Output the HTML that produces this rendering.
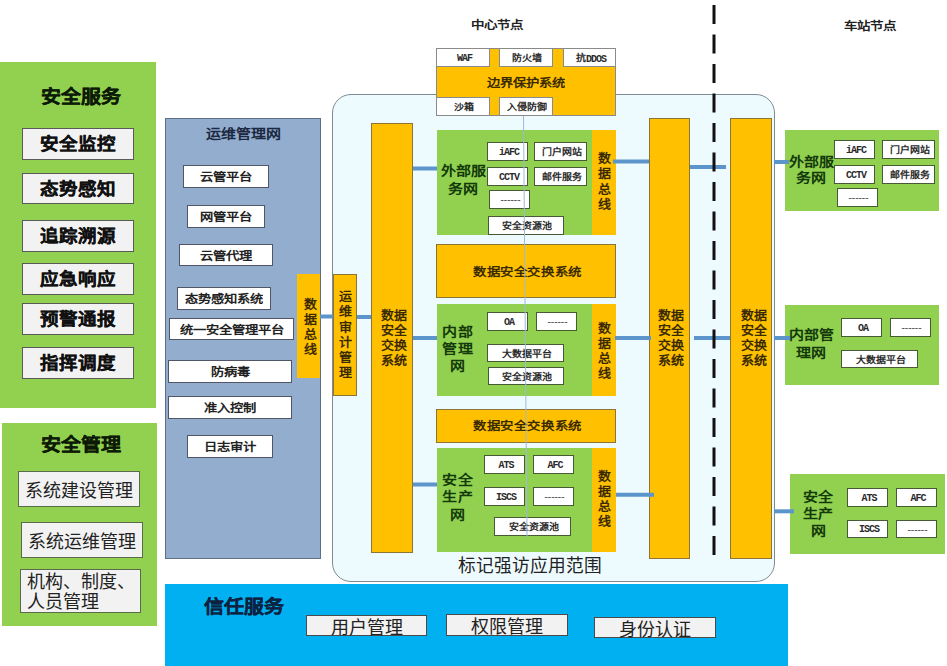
<!DOCTYPE html>
<html lang="zh-CN">
<head>
<meta charset="utf-8">
<style>
html,body{margin:0;padding:0;}
body{width:947px;height:666px;overflow:hidden;background:#ffffff;position:relative;font-family:"Liberation Serif",serif;}
.a{position:absolute;box-sizing:border-box;}
.c{display:flex;align-items:center;justify-content:center;white-space:nowrap;}
.g{background:#92D050;}
.y{background:#FFC000;}
.s{font-family:"Liberation Sans",sans-serif;}
.gb{background:#F2F2F2;border:1px solid #5a5a5a;font-family:"Liberation Sans",sans-serif;font-weight:bold;font-size:18.5px;color:#111;-webkit-text-stroke:0.3px #111;}
.gm{background:#F2F2F2;border:1px solid #5a6a4a;font-family:"Liberation Sans",sans-serif;font-size:18px;color:#222;}
.wb{background:#fff;border:1px solid #505666;font-weight:bold;font-size:13.3px;color:#222;}
.sb{background:#fff;border:1px solid #465a36;font-weight:bold;font-size:10px;color:#2a2a2a;padding-left:2px;}
.gb span{display:inline-block;transform:scaleY(.9);position:relative;top:-1px;}
.sq{display:inline-block;transform:scaleY(.9);}
.wb span{display:inline-block;transform:scaleY(.88);position:relative;top:0px;}
.m{font-family:"Liberation Mono",monospace;letter-spacing:-1px;margin-right:-1px;position:relative;top:0px;display:inline-block;transform:scaleY(1.15);}
.sb .t{display:inline-block;transform:scaleY(.87);}
.gt .l{display:inline-block;transform:scaleY(.87);}
.vt .l{display:inline-block;transform:scaleY(.92);}
.q{display:inline-block;transform:scaleY(.87);}
.vt{text-align:center;font-weight:bold;color:#3a2a00;}
.gt{font-weight:bold;color:#123a0a;text-align:center;}
.ln{position:absolute;background:#5B9BD5;height:4px;}
</style>
</head>
<body>

<!-- 安全服务 panel -->
<div class="a g" style="left:0;top:62px;width:156px;height:346px;"></div>
<div class="a c s" style="left:0;top:83px;width:162px;height:24px;font-size:20px;font-weight:bold;color:#0c1a06;-webkit-text-stroke:0.3px #0c1a06;"><span class="sq">安全服务</span></div>
<div class="a c gb" style="left:22px;top:128px;width:112px;height:32px;"><span>安全监控</span></div>
<div class="a c gb" style="left:22px;top:173px;width:112px;height:31px;"><span>态势感知</span></div>
<div class="a c gb" style="left:22px;top:220px;width:112px;height:32px;"><span>追踪溯源</span></div>
<div class="a c gb" style="left:22px;top:263px;width:112px;height:32px;"><span>应急响应</span></div>
<div class="a c gb" style="left:22px;top:303px;width:112px;height:32px;"><span>预警通报</span></div>
<div class="a c gb" style="left:22px;top:347px;width:112px;height:32px;"><span>指挥调度</span></div>

<!-- 安全管理 panel -->
<div class="a g" style="left:2px;top:423px;width:155px;height:203px;"></div>
<div class="a c s" style="left:2px;top:431px;width:158px;height:24px;font-size:20px;font-weight:bold;color:#0c1a06;-webkit-text-stroke:0.3px #0c1a06;"><span class="sq">安全管理</span></div>
<div class="a c gm" style="left:18px;top:471px;width:122px;height:36px;">系统建设管理</div>
<div class="a c gm" style="left:21px;top:522px;width:122px;height:36px;">系统运维管理</div>
<div class="a gm" style="left:20px;top:569px;width:121px;height:44px;line-height:20px;padding:2px 0 0 6px;white-space:nowrap;">机构、制度、<br>人员管理</div>

<!-- 运维管理网 panel -->
<div class="a" style="left:165px;top:118px;width:156px;height:441px;background:#93ADCF;border:1px solid #5f6f86;"></div>
<div class="a c" style="left:165px;top:122.5px;width:156px;height:20px;font-size:15px;font-weight:bold;color:#1c2840;"><span class="q">运维管理网</span></div>
<div class="a c wb" style="left:183px;top:165px;width:86px;height:23px;"><span>云管平台</span></div>
<div class="a c wb" style="left:187px;top:205px;width:78px;height:23px;"><span>网管平台</span></div>
<div class="a c wb" style="left:179px;top:244px;width:94px;height:22px;"><span>云管代理</span></div>
<div class="a c wb" style="left:177px;top:287px;width:94px;height:23px;"><span>态势感知系统</span></div>
<div class="a c wb" style="left:169px;top:318px;width:125px;height:22px;"><span>统一安全管理平台</span></div>
<div class="a c wb" style="left:168px;top:360px;width:124px;height:23px;"><span>防病毒</span></div>
<div class="a c wb" style="left:168px;top:396px;width:124px;height:23px;"><span>准入控制</span></div>
<div class="a c wb" style="left:187px;top:435px;width:86px;height:23px;"><span>日志审计</span></div>

<!-- left 数据总线 -->
<div class="a y vt" style="left:297px;top:274px;width:23px;height:104px;font-size:13px;line-height:15px;padding-top:22.5px;padding-left:3px;"><span class="l">数</span><br><span class="l">据</span><br><span class="l">总</span><br><span class="l">线</span></div>

<!-- rounded container -->
<div class="a" style="left:332px;top:94px;width:443px;height:488px;background:#EEFBFE;border:1.5px solid #7f8a93;border-radius:19px;"></div>

<!-- 中心节点 / 车站节点 -->
<div class="a c" style="left:455px;top:14.3px;width:83px;height:20px;font-size:13.5px;font-weight:bold;color:#222;"><span class="q">中心节点</span></div>
<div class="a c" style="left:828px;top:15.3px;width:83px;height:20px;font-size:13.5px;font-weight:bold;color:#222;"><span class="q">车站节点</span></div>

<!-- 运维审计管理 -->
<div class="a y vt" style="left:333px;top:274px;width:24px;height:122px;border:1px solid #8c7434;font-size:13px;line-height:15.3px;padding-top:14px;"><span class="l">运</span><br><span class="l">维</span><br><span class="l">审</span><br><span class="l">计</span><br><span class="l">管</span><br><span class="l">理</span></div>

<!-- Big yellow bar 1 -->
<div class="a y vt" style="left:371px;top:123px;width:42px;height:430px;border:1px solid #8c7434;font-size:13px;line-height:15.3px;padding-top:183.5px;padding-left:3px;"><span class="l">数据</span><br><span class="l">安全</span><br><span class="l">交换</span><br><span class="l">系统</span></div>

<!-- bars 2 & 3 -->
<div class="a y vt" style="left:649px;top:118px;width:41px;height:441px;border:1px solid #8c7434;font-size:13px;line-height:15.3px;padding-top:188.5px;padding-left:2px;"><span class="l">数据</span><br><span class="l">安全</span><br><span class="l">交换</span><br><span class="l">系统</span></div>
<div class="a y vt" style="left:730px;top:118px;width:42px;height:441px;border:1px solid #8c7434;font-size:13px;line-height:15.3px;padding-top:188.5px;padding-left:5px;"><span class="l">数据</span><br><span class="l">安全</span><br><span class="l">交换</span><br><span class="l">系统</span></div>

<!-- 边界保护系统 -->
<div class="a y" style="left:436px;top:48px;width:180px;height:68px;border:1px solid #8a8a8a;"></div>
<div class="a c" style="left:436px;top:72px;width:180px;height:20px;font-size:13.3px;font-weight:bold;color:#3a2a00;"><span class="q">边界保护系统</span></div>
<div class="a c sb" style="left:436px;top:48px;width:54px;height:19px;border-color:#8a8a8a;"><span class="t"><span class="m">WAF</span></span></div>
<div class="a c sb" style="left:499px;top:48px;width:54px;height:19px;border-color:#8a8a8a;"><span class="t">防火墙</span></div>
<div class="a c sb" style="left:563px;top:48px;width:53px;height:19px;border-color:#8a8a8a;"><span class="t">抗<span class="m">DDOS</span></span></div>
<div class="a c sb" style="left:436px;top:97px;width:54px;height:19px;border-color:#8a8a8a;"><span class="t">沙箱</span></div>
<div class="a c sb" style="left:499px;top:97px;width:54px;height:19px;border-color:#8a8a8a;"><span class="t">入侵防御</span></div>

<!-- green 1 外部服务网 -->
<div class="a g" style="left:437px;top:130px;width:155px;height:105px;"></div>
<div class="a y vt" style="left:592px;top:130px;width:24px;height:105px;font-size:13px;line-height:15.5px;padding-top:20.5px;"><span class="l">数</span><br><span class="l">据</span><br><span class="l">总</span><br><span class="l">线</span></div>
<div class="a gt" style="left:437px;top:163.3px;width:52px;font-size:15px;line-height:17.4px;"><span class="l">外部服</span><br><span class="l">务网</span></div>
<div class="a c sb" style="left:487px;top:142px;width:41px;height:19px;"><span class="t"><span class="m">iAFC</span></span></div>
<div class="a c sb" style="left:534px;top:142px;width:53px;height:19px;"><span class="t">门户网站</span></div>
<div class="a c sb" style="left:487px;top:167px;width:41px;height:19px;"><span class="t"><span class="m">CCTV</span></span></div>
<div class="a c sb" style="left:534px;top:167px;width:53px;height:19px;"><span class="t">邮件服务</span></div>
<div class="a c sb" style="left:489px;top:190px;width:41px;height:19px;"><span class="t">------</span></div>
<div class="a c sb" style="left:488px;top:216px;width:76px;height:19px;"><span class="t">安全资源池</span></div>

<!-- yellow 数据安全交换系统 1 -->
<div class="a y c" style="left:436px;top:244px;width:180px;height:54px;border:1px solid #8c7434;font-size:13.4px;letter-spacing:0.6px;padding-left:3px;font-weight:bold;color:#3a2a00;"><span class="q">数据安全交换系统</span></div>

<!-- green 2 内部管理网 -->
<div class="a g" style="left:437px;top:304px;width:155px;height:92px;"></div>
<div class="a y vt" style="left:592px;top:304px;width:24px;height:92px;font-size:13px;line-height:15px;padding-top:17px;"><span class="l">数</span><br><span class="l">据</span><br><span class="l">总</span><br><span class="l">线</span></div>
<div class="a gt" style="left:440px;top:323.5px;width:36px;font-size:15px;line-height:17px;letter-spacing:1px;"><span class="l">内部</span><br><span class="l">管理</span><br><span class="l">网</span></div>
<div class="a c sb" style="left:487px;top:312px;width:41px;height:19px;"><span class="t"><span class="m">OA</span></span></div>
<div class="a c sb" style="left:536px;top:312px;width:41px;height:19px;"><span class="t">------</span></div>
<div class="a c sb" style="left:487px;top:344px;width:77px;height:18px;"><span class="t">大数据平台</span></div>
<div class="a c sb" style="left:488px;top:367px;width:76px;height:18px;"><span class="t">安全资源池</span></div>

<!-- yellow 数据安全交换系统 2 -->
<div class="a y c" style="left:436px;top:409px;width:180px;height:34px;border:1px solid #8c7434;font-size:13.4px;letter-spacing:0.6px;padding-left:3px;padding-bottom:2px;font-weight:bold;color:#3a2a00;"><span class="q">数据安全交换系统</span></div>

<!-- green 3 安全生产网 -->
<div class="a g" style="left:437px;top:448px;width:155px;height:104px;"></div>
<div class="a y vt" style="left:592px;top:448px;width:24px;height:104px;font-size:13px;line-height:15px;padding-top:21px;"><span class="l">数</span><br><span class="l">据</span><br><span class="l">总</span><br><span class="l">线</span></div>
<div class="a gt" style="left:440px;top:471.5px;width:36px;font-size:15px;line-height:17.5px;letter-spacing:1px;"><span class="l">安全</span><br><span class="l">生产</span><br><span class="l">网</span></div>
<div class="a c sb" style="left:484px;top:455px;width:41px;height:19px;"><span class="t"><span class="m">ATS</span></span></div>
<div class="a c sb" style="left:533px;top:455px;width:41px;height:19px;"><span class="t"><span class="m">AFC</span></span></div>
<div class="a c sb" style="left:484px;top:487px;width:41px;height:19px;"><span class="t"><span class="m">ISCS</span></span></div>
<div class="a c sb" style="left:533px;top:487px;width:41px;height:19px;"><span class="t">------</span></div>
<div class="a c sb" style="left:494px;top:517px;width:77px;height:19px;"><span class="t">安全资源池</span></div>

<!-- 标记强访应用范围 -->
<div class="a c s" style="left:440px;top:552px;width:180px;height:24px;font-size:17.7px;color:#222;">标记强访应用范围</div>

<!-- station green 1 -->
<div class="a g" style="left:785px;top:130px;width:154px;height:81px;"></div>
<div class="a gt" style="left:786px;top:153.5px;width:50px;font-size:15px;line-height:16.8px;"><span class="l">外部服</span><br><span class="l">务网</span></div>
<div class="a c sb" style="left:834px;top:140px;width:41px;height:19px;"><span class="t"><span class="m">iAFC</span></span></div>
<div class="a c sb" style="left:882px;top:140px;width:53px;height:19px;"><span class="t">门户网站</span></div>
<div class="a c sb" style="left:834px;top:165px;width:41px;height:19px;"><span class="t"><span class="m">CCTV</span></span></div>
<div class="a c sb" style="left:882px;top:165px;width:53px;height:19px;"><span class="t">邮件服务</span></div>
<div class="a c sb" style="left:837px;top:188px;width:41px;height:19px;"><span class="t">------</span></div>

<!-- station green 2 -->
<div class="a g" style="left:785px;top:305px;width:154px;height:80px;"></div>
<div class="a gt" style="left:786px;top:327px;width:50px;font-size:15px;line-height:17.9px;"><span class="l">内部管</span><br><span class="l">理网</span></div>
<div class="a c sb" style="left:841px;top:318px;width:41px;height:19px;"><span class="t"><span class="m">OA</span></span></div>
<div class="a c sb" style="left:890px;top:318px;width:41px;height:19px;"><span class="t">------</span></div>
<div class="a c sb" style="left:841px;top:350px;width:77px;height:18px;"><span class="t">大数据平台</span></div>

<!-- station green 3 -->
<div class="a g" style="left:790px;top:474px;width:155px;height:80px;"></div>
<div class="a gt" style="left:800px;top:488.5px;width:36px;font-size:15px;line-height:17px;letter-spacing:0px;"><span class="l">安全</span><br><span class="l">生产</span><br><span class="l">网</span></div>
<div class="a c sb" style="left:847px;top:488px;width:41px;height:19px;"><span class="t"><span class="m">ATS</span></span></div>
<div class="a c sb" style="left:896px;top:488px;width:41px;height:19px;"><span class="t"><span class="m">AFC</span></span></div>
<div class="a c sb" style="left:847px;top:520px;width:41px;height:18px;"><span class="t"><span class="m">ISCS</span></span></div>
<div class="a c sb" style="left:896px;top:520px;width:41px;height:18px;"><span class="t">------</span></div>

<!-- 信任服务 panel -->
<div class="a" style="left:165px;top:584px;width:623px;height:82px;background:#00B0F0;"></div>
<div class="a s" style="left:204px;top:590.5px;font-size:20px;font-weight:bold;color:#0d2240;white-space:nowrap;-webkit-text-stroke:0.3px #0d2240;"><span class="sq">信任服务</span></div>
<div class="a c gm" style="left:306px;top:615px;width:121px;height:21px;border-color:#4a4a4a;">用户管理</div>
<div class="a c gm" style="left:446px;top:614px;width:122px;height:22px;border-color:#4a4a4a;">权限管理</div>
<div class="a c gm" style="left:594px;top:617px;width:122px;height:21px;border-color:#4a4a4a;">身份认证</div>

<!-- lines -->
<svg class="a" style="left:0;top:0;" width="947" height="666" viewBox="0 0 947 666">
  <line x1="523.5" y1="116" x2="527" y2="537" stroke="#9dbad8" stroke-width="1"/>
  <g stroke="#5b95cc" stroke-width="4">
    <line x1="320" y1="316.5" x2="333" y2="316.5"/>
    <line x1="357" y1="317" x2="371" y2="317"/>
    <line x1="413" y1="168.5" x2="437" y2="168.5"/>
    <line x1="413" y1="338" x2="437" y2="338"/>
    <line x1="413" y1="484.5" x2="437" y2="484.5"/>
    <line x1="613" y1="161.5" x2="649" y2="161.5"/>
    <line x1="690" y1="167" x2="726" y2="167"/>
    <line x1="774" y1="162" x2="789" y2="162"/>
    <line x1="615" y1="338" x2="651" y2="338"/>
    <line x1="694" y1="338" x2="730" y2="338"/>
    <line x1="774" y1="338" x2="790" y2="338"/>
    <line x1="616" y1="494.7" x2="654" y2="494.7"/>
    <line x1="774" y1="511.3" x2="794" y2="511.3"/>
  </g>
  <line x1="714" y1="5" x2="714" y2="556" stroke="#111" stroke-width="3" stroke-dasharray="19 10.5"/>
</svg>

</body>
</html>
